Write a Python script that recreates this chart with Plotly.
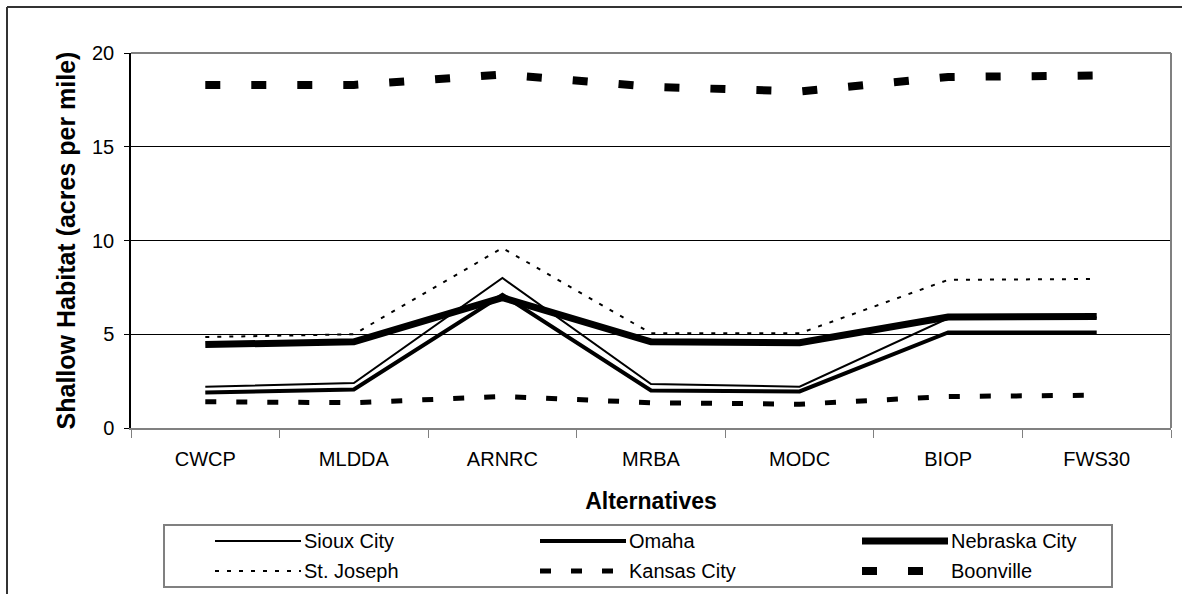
import plotly.graph_objects as go

alternatives = ["CWCP", "MLDDA", "ARNRC", "MRBA", "MODC", "BIOP", "FWS30"]

sioux_city = [2.2, 2.4, 8.0, 2.35, 2.2, 5.85, 5.9]
omaha = [1.9, 2.05, 7.1, 2.0, 1.95, 5.1, 5.1]
nebraska_city = [4.45, 4.6, 6.95, 4.6, 4.55, 5.92, 5.95]
st_joseph = [4.85, 5.0, 9.6, 5.05, 5.05, 7.9, 7.95]
kansas_city = [1.4, 1.35, 1.68, 1.35, 1.27, 1.68, 1.75]
boonville = [18.3, 18.3, 18.85, 18.2, 17.95, 18.72, 18.8]

# (name, values, line width, dash)
series = [
    ("Sioux City", sioux_city, 2, "solid"),
    ("Omaha", omaha, 4, "solid"),
    ("Nebraska City", nebraska_city, 7, "solid"),
    ("St. Joseph", st_joseph, 2, "4px,8px"),
    ("Kansas City", kansas_city, 5, "11px,20px"),
    ("Boonville", boonville, 8, "15px,31px"),
]

FONT = "Arial, Liberation Sans, sans-serif"

fig = go.Figure()
for name, vals, width, dash in series:
    fig.add_trace(go.Scatter(
        x=alternatives, y=vals, name=name, mode="lines",
        line=dict(color="black", width=width, dash=dash),
        showlegend=False,
    ))

# page and plot-area geometry in pixels
W, H = 1182, 594
L, R, T, B = 131, 11, 53, 166
pw, ph = W - L - R, H - T - B

def px_x(p):
    return (p - L) / pw

def px_y(p):
    return (H - B - p) / ph

shapes = [
    # grey frame on the top and right of the plot area
    dict(type="line", xref="paper", yref="paper", x0=0, x1=1, y0=1, y1=1,
         line=dict(color="#808080", width=2)),
    dict(type="line", xref="paper", yref="paper", x0=1, x1=1, y0=0, y1=1,
         line=dict(color="#808080", width=2)),
    # outer chart frame
    dict(type="line", xref="paper", yref="paper", x0=px_x(7), x1=px_x(1200),
         y0=px_y(7), y1=px_y(7), line=dict(color="#333333", width=2)),
    dict(type="line", xref="paper", yref="paper", x0=px_x(7), x1=px_x(7),
         y0=px_y(7), y1=px_y(620), line=dict(color="#333333", width=2)),
    # legend box
    dict(type="rect", xref="paper", yref="paper",
         x0=px_x(164), x1=px_x(1112), y0=px_y(525), y1=px_y(587),
         line=dict(color="#808080", width=2), fillcolor="white"),
]
annotations = []

# legend: three columns, two rows, long line samples left of each label
label_x = [303, 628, 950]
row_y = [541, 571]
sample_len = 86
for i, (name, vals, width, dash) in enumerate(series):
    col, row = i % 3, i // 3
    tx, ty = label_x[col], row_y[row]
    shapes.append(dict(
        type="line", xref="paper", yref="paper",
        x0=px_x(tx - sample_len - 2), x1=px_x(tx - 2), y0=px_y(ty), y1=px_y(ty),
        line=dict(color="black", width=width, dash=dash),
    ))
    annotations.append(dict(
        xref="paper", yref="paper", x=px_x(tx - 1), y=px_y(ty),
        xanchor="left", yanchor="middle", showarrow=False,
        text=name, font=dict(family=FONT, size=20, color="black"),
    ))

fig.update_layout(
    width=W, height=H,
    margin=dict(l=L, r=R, t=T, b=B, autoexpand=False),
    paper_bgcolor="white", plot_bgcolor="white",
    font=dict(family=FONT, size=20, color="black"),
    showlegend=False,
    xaxis=dict(
        type="category", range=[-0.5, 6.5],
        showgrid=False, zeroline=False,
        showline=True, linecolor="#808080", linewidth=2,
        ticks="outside", ticklen=8, tickcolor="#808080", tickson="boundaries",
        tickfont=dict(size=20), ticklabelstandoff=12,
        title=dict(text="<b>Alternatives</b>", font=dict(size=23), standoff=24),
    ),
    yaxis=dict(
        range=[0, 20], tickvals=[0, 5, 10, 15, 20],
        showgrid=True, gridcolor="black", gridwidth=1,
        zeroline=False,
        showline=True, linecolor="black", linewidth=1.5,
        ticks="outside", ticklen=5, tickcolor="black",
        tickfont=dict(size=20), ticklabelstandoff=6,
        title=dict(text="<b>Shallow Habitat (acres per mile)</b>", font=dict(size=25), standoff=9),
    ),
    shapes=shapes,
    annotations=annotations,
)

fig.write_html("out.html")
